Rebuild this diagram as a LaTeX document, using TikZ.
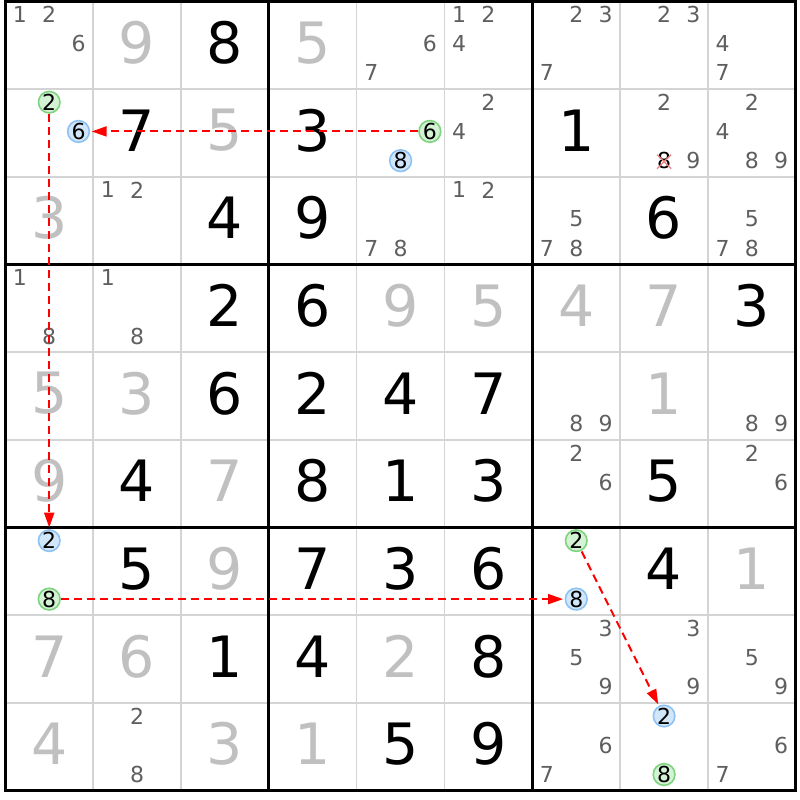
\documentclass[tikz,border=0pt]{standalone}
\usepackage{fontspec}
\setmainfont{DejaVu Sans}
\usetikzlibrary{arrows.meta}
\definecolor{candgray}{HTML}{5F5F5F}
\definecolor{solvedgray}{HTML}{C0C0C0}
\definecolor{gridgray}{HTML}{D4D4D4}
\definecolor{gfill}{HTML}{D4F2D4}
\definecolor{gdraw}{HTML}{7ED47E}
\definecolor{bfill}{HTML}{D2E6FA}
\definecolor{bdraw}{HTML}{8EC2F2}
\definecolor{xred}{HTML}{F08080}
\definecolor{linkred}{HTML}{FF0000}
\def\L{5.3}\def\T{1.3}\def\CW{87.85}\def\CH{87.7}
\newcommand\mypos[3]{%
  \pgfmathsetmacro\myX{\L+#2*\CW+(mod(#3-1,3)+0.5)*\CW/3}%
  \pgfmathsetmacro\myY{\T+#1*\CH+(floor((#3-1)/3)+0.5)*\CH/3-1.5}}
\begin{document}
\begin{tikzpicture}[x=1pt,y=-1pt,
  given/.style={font=\fontsize{57}{57}\selectfont, text=black, inner sep=0pt},
  solvedd/.style={font=\fontsize{57}{57}\selectfont, text=solvedgray, inner sep=0pt},
  candd/.style={font=\fontsize{22}{22}\selectfont, text=candgray, inner sep=0pt},
  gcirc/.style={circle, draw=gdraw, fill=gfill, line width=1.6pt, minimum size=21.5pt, inner sep=0pt, font=\fontsize{22}{22}\selectfont, text=black},
  bcirc/.style={gcirc, draw=bdraw, fill=bfill},
  link/.style={draw=linkred, line width=2pt, dash pattern=on 8pt off 5pt, -{Triangle[length=15pt,width=10pt,fill=linkred]}, shorten >=1.5pt, shorten <=0.5pt},
  gridline/.style={draw=gridgray, line width=1.6pt},
  boxline/.style={draw=black, line width=2.8pt}]
\fill[white] (0,0) rectangle (800,800);
% thin cell lines
\foreach \i in {1,2,4,5,7,8}{
  \draw[gridline] ({\L+\i*\CW},\T) -- ({\L+\i*\CW},{\T+9*\CH});
  \draw[gridline] (\L,{\T+\i*\CH}) -- ({\L+9*\CW},{\T+\i*\CH});
}
% box lines
\foreach \i in {3,6}{
  \draw[boxline] ({\L+\i*\CW},\T) -- ({\L+\i*\CW},{\T+9*\CH});
  \draw[boxline] (\L,{\T+\i*\CH}) -- ({\L+9*\CW},{\T+\i*\CH});
}
\draw[boxline] (\L,\T) rectangle ({\L+9*\CW},{\T+9*\CH});
% big digits
\foreach \r/\c/\d/\s in {0/1/9/solvedd,0/2/8/given,0/3/5/solvedd,
  1/1/7/given,1/2/5/solvedd,1/3/3/given,1/6/1/given,
  2/0/3/solvedd,2/2/4/given,2/3/9/given,2/7/6/given,
  3/2/2/given,3/3/6/given,3/4/9/solvedd,3/5/5/solvedd,3/6/4/solvedd,3/7/7/solvedd,3/8/3/given,
  4/0/5/solvedd,4/1/3/solvedd,4/2/6/given,4/3/2/given,4/4/4/given,4/5/7/given,4/7/1/solvedd,
  5/0/9/solvedd,5/1/4/given,5/2/7/solvedd,5/3/8/given,5/4/1/given,5/5/3/given,5/7/5/given,
  6/1/5/given,6/2/9/solvedd,6/3/7/given,6/4/3/given,6/5/6/given,6/7/4/given,6/8/1/solvedd,
  7/0/7/solvedd,7/1/6/solvedd,7/2/1/given,7/3/4/given,7/4/2/solvedd,7/5/8/given,
  8/0/4/solvedd,8/2/3/solvedd,8/3/1/solvedd,8/4/5/given,8/5/9/given}{
  \node[\s] (g\r\c) at ({\L+(\c+0.5)*\CW},{\T+(\r+0.5)*\CH-2.6}) {\d};
}
% candidates
\foreach \r/\c/\d in {0/0/1,0/0/2,0/0/6,0/4/6,0/4/7,0/5/1,0/5/2,0/5/4,0/6/2,0/6/3,0/6/7,0/7/2,0/7/3,0/8/4,0/8/7,
  1/5/2,1/5/4,1/7/2,1/7/9,1/8/2,1/8/4,1/8/8,1/8/9,
  2/1/1,2/1/2,2/4/7,2/4/8,2/5/1,2/5/2,2/6/5,2/6/7,2/6/8,2/8/5,2/8/7,2/8/8,
  3/0/1,3/0/8,3/1/1,3/1/8,
  4/6/8,4/6/9,4/8/8,4/8/9,
  5/6/2,5/6/6,5/8/2,5/8/6,
  7/6/3,7/6/5,7/6/9,7/7/3,7/7/9,7/8/5,7/8/9,
  8/1/2,8/1/8,8/6/6,8/6/7,8/8/6,8/8/7}{
  \mypos{\r}{\c}{\d}
  \node[candd] (k\r\c\d) at (\myX,\myY) {\d};
}
% crossed out candidate
\mypos{1}{7}{8}
\node[candd, text=black] (x8) at (\myX,\myY) {8};
\draw[xred, line width=1.2pt] ([shift={(-7,-6)}]x8.center) -- ([shift={(7,8)}]x8.center)
  ([shift={(7,-6)}]x8.center) -- ([shift={(-7,8)}]x8.center);
% highlighted candidates
\mypos{1}{0}{2}\node[gcirc] (a2) at (\myX,\myY) {2};
\mypos{1}{0}{6}\node[bcirc] (a6) at (\myX,\myY) {6};
\mypos{1}{4}{6}\node[gcirc] (b6) at (\myX,\myY) {6};
\mypos{1}{4}{8}\node[bcirc] (b8) at (\myX,\myY) {8};
\mypos{6}{0}{2}\node[bcirc] (c2) at (\myX,\myY) {2};
\mypos{6}{0}{8}\node[gcirc] (c8) at (\myX,\myY) {8};
\mypos{6}{6}{2}\node[gcirc] (d2) at (\myX,\myY) {2};
\mypos{6}{6}{8}\node[bcirc] (d8) at (\myX,\myY) {8};
\mypos{8}{7}{2}\node[bcirc] (e2) at (\myX,\myY) {2};
\mypos{8}{7}{8}\node[gcirc] (e8) at (\myX,\myY) {8};
% links
\draw[link] (b6) -- (a6);
\draw[link] (a2) -- (c2);
\draw[link] (c8) -- (d8);
\draw[link] (d2) -- (e2);
\end{tikzpicture}
\end{document}
